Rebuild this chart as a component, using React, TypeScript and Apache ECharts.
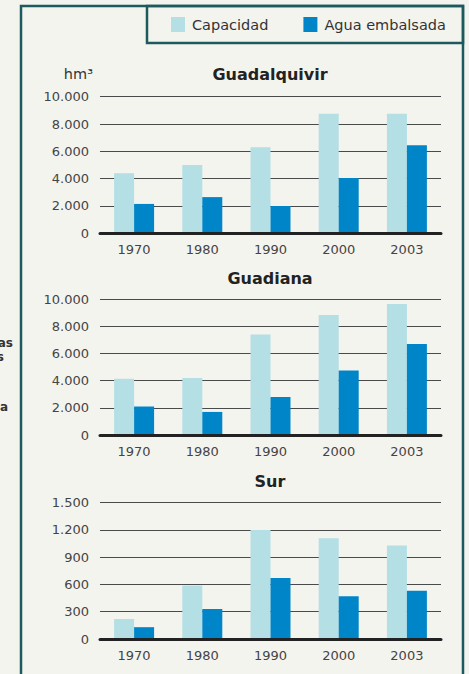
import React, { useEffect, useRef } from "react";
import * as echarts from "echarts";

const years = ["1970", "1980", "1990", "2000", "2003"];
const regions = ["Guadalquivir", "Guadiana", "Sur"];
const seriesNames = ["Capacidad", "Agua embalsada"];

const guadalquivirCapacidad = [4400, 5000, 6300, 8750, 8750];
const guadalquivirAgua = [2150, 2650, 2000, 4050, 6450];
const guadianaCapacidad = [4150, 4200, 7400, 8850, 9650];
const guadianaAgua = [2100, 1700, 2800, 4750, 6700];
const surCapacidad = [220, 590, 1200, 1110, 1030];
const surAgua = [130, 330, 670, 470, 530];

const yMax = [10000, 10000, 1500];
const yInterval = [2000, 2000, 300];

const LIGHT = "#b3dfe5";
const DARK = "#0086c8";
const BORDER = "#1d5a5e";
const BG = "#f4f4ef";
const FONT = "DejaVu Sans";

const fmt = (v: number) => String(v).replace(/\B(?=(\d{3})+(?!\d))/g, ".");

export default function App() {
  const ref = useRef<HTMLDivElement>(null);
  useEffect(() => {
    if (!ref.current) return;
    const chart = echarts.init(ref.current, undefined, { renderer: "svg" });
    const data = [
      [guadalquivirCapacidad, guadalquivirAgua],
      [guadianaCapacidad, guadianaAgua],
      [surCapacidad, surAgua],
    ];
    const grids = [
      { left: 100, right: 28, top: 96.7, height: 136.6 },
      { left: 100, right: 28, top: 299.3, height: 135.7 },
      { left: 100, right: 28, top: 502.7, height: 136.3 },
    ];
    const titleTops = [66, 270, 473];
    const option: any = {
      animation: false,
      backgroundColor: BG,
      textStyle: { fontFamily: FONT },
      legend: {
        left: 166,
        top: 12,
        itemWidth: 14,
        itemHeight: 15,
        itemGap: 35,
        icon: "rect",
        data: seriesNames,
        textStyle: { fontSize: 14.5, color: "#333", fontFamily: FONT, padding: [0, 0, 0, 2] },
      },
      title: regions.map((r, i) => ({
        text: r,
        left: 270,
        top: titleTops[i],
        textAlign: "center",
        padding: 0,
        textStyle: { fontSize: 16, fontWeight: "bold", color: "#222", fontFamily: FONT },
      })),
      grid: grids,
      xAxis: grids.map((_, i) => ({
        type: "category",
        gridIndex: i,
        data: years,
        axisLine: { show: true, lineStyle: { color: "#222", width: 3 } },
        axisTick: { show: false },
        axisLabel: { color: "#444", fontSize: 13, margin: 10, fontFamily: FONT },
        z: 5,
      })),
      yAxis: grids.map((_, i) => ({
        type: "value",
        gridIndex: i,
        min: 0,
        max: yMax[i],
        interval: yInterval[i],
        axisLine: { show: false },
        axisTick: { show: false },
        axisLabel: { color: "#444", fontSize: 13, margin: 11, fontFamily: FONT, formatter: (v: number) => fmt(v) },
        splitLine: { show: true, lineStyle: { color: "#4a4a4a", width: 1.2 } },
      })),
      series: data.flatMap((pair, i) =>
        pair.map((vals, j) => ({
          type: "bar",
          name: seriesNames[j],
          xAxisIndex: i,
          yAxisIndex: i,
          data: vals,
          barWidth: 20,
          barGap: "0%",
          itemStyle: { color: j === 0 ? LIGHT : DARK },
        }))
      ),
      graphic: [
        {
          type: "rect",
          shape: { x: 21, y: 6, width: 442, height: 720 },
          style: { fill: "none", stroke: BORDER, lineWidth: 2.5 },
          silent: true,
        },
        {
          type: "rect",
          shape: { x: 147, y: 6, width: 316, height: 37 },
          style: { fill: "none", stroke: BORDER, lineWidth: 2.5 },
          silent: true,
        },
        {
          type: "text",
          style: { text: "hm³", x: 93, y: 74, textAlign: "right", textVerticalAlign: "middle", fontSize: 14.5, fill: "#333", fontFamily: FONT },
        },
        {
          type: "text",
          style: { text: "as", x: 13, y: 343, textAlign: "right", textVerticalAlign: "middle", fontSize: 12, fontWeight: "bold", fill: "#333", fontFamily: FONT },
        },
        {
          type: "text",
          style: { text: "s", x: 4, y: 357, textAlign: "right", textVerticalAlign: "middle", fontSize: 12, fontWeight: "bold", fill: "#333", fontFamily: FONT },
        },
        {
          type: "text",
          style: { text: "a", x: 8, y: 407, textAlign: "right", textVerticalAlign: "middle", fontSize: 12, fontWeight: "bold", fill: "#333", fontFamily: FONT },
        },
      ],
    };
    chart.setOption(option);
    return () => chart.dispose();
  }, []);
  return (
    <div
      ref={ref}
      style={{ position: "fixed", left: 0, top: 0, width: 469, height: 674 }}
    />
  );
}
